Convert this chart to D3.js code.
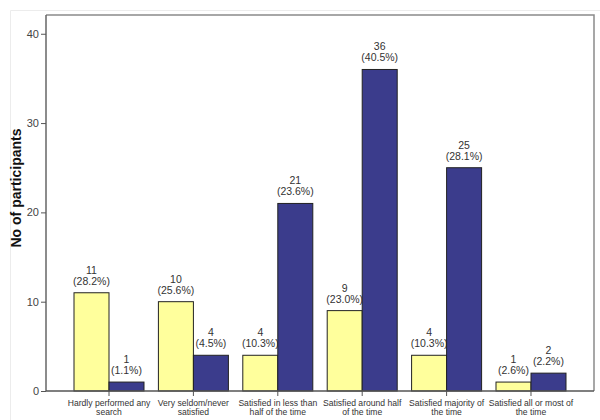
<!DOCTYPE html>
<html><head><meta charset="utf-8">
<script src="https://cdn.jsdelivr.net/npm/d3@7"></script>
<style>body{margin:0;background:#fff;} svg{display:block;font-family:"Liberation Sans",Arial,sans-serif;}</style>
</head><body><svg id="c" width="600" height="420"></svg>
<script>
const categories = [
  ["Hardly performed any","search"],
  ["Very seldom/never","satisfied"],
  ["Satisfied in less than","half of the time"],
  ["Satisfied around half","of the time"],
  ["Satisfied majority of","the time"],
  ["Satisfied all or most of","the time"]
];
const seriesYellow = [11, 10, 4, 9, 4, 1];
const seriesYellowPct = ["28.2%","25.6%","10.3%","23.0%","10.3%","2.6%"];
const seriesBlue = [1, 4, 21, 36, 25, 2];
const seriesBluePct = ["1.1%","4.5%","23.6%","40.5%","28.1%","2.2%"];
const yTicks = [0, 10, 20, 30, 40];
const yLabel = "No of participants";

const svg = d3.select("#c");
const L = 46, R = 594, T = 15, B = 391;
const colors = ["#ffff9c", "#3b3c8c"];

// light outer border
svg.append("path").attr("d","M10.5,430V10.5H620").attr("fill","none").attr("stroke","#ececec");

const x = d3.scaleBand().domain(d3.range(categories.length)).range([74, 566]).paddingInner(0.1706).paddingOuter(0);
const xs = d3.scaleBand().domain([0,1]).range([0, x.bandwidth()]);
const y = d3.scaleLinear().domain([0, 42.1]).range([B, T]);

// frame top/right
svg.append("path").attr("d",`M${L},${T}H${R}V${B}`).attr("fill","none").attr("stroke","#8a8a8a").attr("stroke-width",1.5);

const data = categories.map((c,i)=>[
  {s:0,v:seriesYellow[i],p:seriesYellowPct[i],i},
  {s:1,v:seriesBlue[i],p:seriesBluePct[i],i}
]);

const g = svg.append("g");
data.forEach(pair=>{
  pair.forEach(d=>{
    const bx = x(d.i)+xs(d.s);
    g.append("rect").attr("x",bx).attr("y",y(d.v)).attr("width",xs.bandwidth()).attr("height",B-y(d.v))
      .attr("fill",colors[d.s]).attr("stroke","#222").attr("stroke-width",1);
    const cx = bx + xs.bandwidth()/2;
    const t = g.append("text").attr("text-anchor","middle").attr("font-size",10.5).attr("fill","#333");
    t.append("tspan").attr("x",cx).attr("y",y(d.v)-19).text(d.v);
    t.append("tspan").attr("x",cx).attr("y",y(d.v)-8).text("("+d.p+")");
  });
});

// y axis
const ya = svg.append("g").attr("transform",`translate(${L},0)`)
  .call(d3.axisLeft(y).tickValues(yTicks).tickSize(5).tickPadding(2));
ya.select(".domain").attr("stroke","#666").attr("stroke-width",1.5).attr("d",`M0,${T}V${B}`);
ya.selectAll(".tick line").attr("stroke","#555");
ya.selectAll(".tick text").attr("fill","#444").attr("font-size",11).attr("font-family","Liberation Sans, Arial, sans-serif");

// x axis baseline + ticks
svg.append("line").attr("x1",L).attr("x2",R).attr("y1",B).attr("y2",B).attr("stroke","#555").attr("stroke-width",1.5);
const xa = svg.append("g");
categories.forEach((c,i)=>{
  const cx = x(i)+x.bandwidth()/2;
  xa.append("line").attr("x1",cx).attr("x2",cx).attr("y1",B).attr("y2",B+5).attr("stroke","#555");
  const t = xa.append("text").attr("text-anchor","middle").attr("font-size",8.6).attr("fill","#333");
  t.append("tspan").attr("x",cx).attr("y",B+15).text(c[0]);
  t.append("tspan").attr("x",cx).attr("y",B+24).text(c[1]);
});

// y label
svg.append("text").attr("transform","translate(21,188) rotate(-90)").attr("text-anchor","middle")
  .attr("font-size",14).attr("font-weight","bold").attr("fill","#111").text(yLabel);
</script></body></html>
